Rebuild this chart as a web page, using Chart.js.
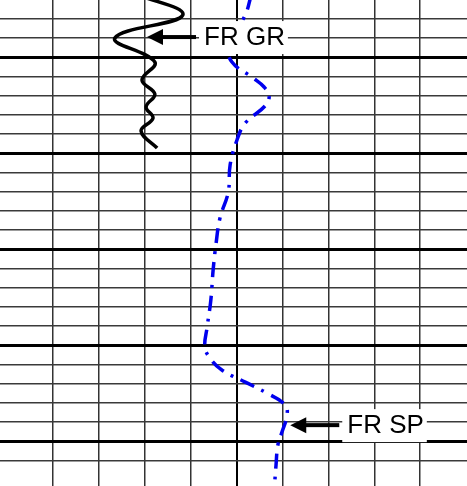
<!DOCTYPE html>
<html>
<head>
<meta charset="utf-8">
<title>FR GR / FR SP</title>
<script src="https://cdn.jsdelivr.net/npm/chart.js@4.4.0/dist/chart.umd.min.js"></script>
<style>
  html, body { margin: 0; padding: 0; background: #fff; }
  #wrap { width: 467px; height: 486px; position: relative; }
</style>
</head>
<body>
<div id="wrap"><canvas id="logChart"></canvas></div>
<script>
// track across (0-100, one column = 10) and depth down (one row = 1)
var trackStep = 10;
var trackCenter = 50;
var depthStep = 1;
var depthMajor = [3, 8, 13, 18, 23];

// gamma ray curve (black wiggle)
var grDepth = [-0.35, 0.79, 1.99, 3.24, 4.18, 4.91, 5.58, 6.16, 6.83, 7.72];
var grValue = [27.5, 38.3, 23.5, 32.2, 29.4, 32.2, 30.3, 31.8, 29.2, 32.7];

// SP curve (blue dash-dot)
var spDepth = [-0.25, 0.79, 2.35, 3.24, 4.07, 4.54, 5.01, 5.53, 6.42, 7.30, 8.60, 10.01, 11.36, 12.77, 14.07, 15.64,
               17.04, 18.08, 18.66, 19.28, 19.91, 20.48, 21.10, 21.63, 22.51, 23.19, 24.23, 25.53];
var spValue = [53.2, 51.9, 48.2, 49.0, 53.6, 56.0, 57.1, 56.2, 51.9, 50.1, 48.6, 48.2, 46.4, 45.5, 44.9, 44.4,
               43.6, 43.1, 44.2, 46.8, 51.9, 56.6, 60.6, 61.0, 59.9, 59.0, 58.6, 58.2];

// arrow labels: text and the point the arrow touches
var labelText = ['FR GR', 'FR SP'];
var labelDepth = [1.94, 22.15];
var labelValue = [30.5, 61.7];

function toPoints(values, depths) {
    var pts = [];
    for (var i = 0; i < values.length; i++) {
        pts.push({ x: values[i], y: depths[i] });
    }
    return pts;
}

function onStep(v, step) {
    return Math.abs(v / step - Math.round(v / step)) < 1e-6;
}

// draws the white label boxes, arrows and text on top of the curves
var arrowLabels = {
    id: 'arrowLabels',
    afterDatasetsDraw: function(chart) {
        var ctx = chart.ctx;
        var xs = chart.scales.x;
        var ys = chart.scales.y;
        ctx.save();
        ctx.font = '26px "Liberation Sans", Arial, sans-serif';
        ctx.textBaseline = 'middle';
        for (var i = 0; i < labelText.length; i++) {
            var tx = xs.getPixelForValue(labelValue[i]);
            var ty = ys.getPixelForValue(labelDepth[i]);
            var textX = tx + 57;
            var w = ctx.measureText(labelText[i]).width;

            ctx.fillStyle = '#fff';
            ctx.fillRect(textX - 5, ty - 16, w + 8, 33);

            ctx.fillStyle = '#000';
            ctx.fillRect(tx + 14, ty - 2, (textX - 8) - (tx + 14), 4);
            ctx.beginPath();
            ctx.moveTo(tx, ty);
            ctx.lineTo(tx + 16, ty - 8);
            ctx.lineTo(tx + 16, ty + 8);
            ctx.closePath();
            ctx.fill();

            ctx.fillText(labelText[i], textX, ty + 1);
        }
        ctx.restore();
    }
};

var chart = new Chart(document.getElementById('logChart').getContext('2d'), {
    type: 'line',
    data: {
        datasets: [
            {
                label: 'SP',
                data: toPoints(spValue, spDepth),
                borderColor: '#0000ee',
                borderWidth: 3.5,
                borderDash: [15, 8, 3, 8],
                tension: 0.4,
                pointRadius: 0,
                fill: false
            },
            {
                label: 'GR',
                data: toPoints(grValue, grDepth),
                borderColor: '#000',
                borderWidth: 3.5,
                tension: 0.4,
                pointRadius: 0,
                fill: false
            }
        ]
    },
    options: {
        responsive: true,
        maintainAspectRatio: false,
        animation: false,
        layout: { padding: 0 },
        plugins: {
            legend: { display: false },
            tooltip: { enabled: false },
            title: { display: false }
        },
        scales: {
            x: {
                type: 'linear',
                position: 'bottom',
                min: -1.525,
                max: 100.2,
                afterFit: function(axis) { axis.height = 0; },
                ticks: { display: false, stepSize: trackStep },
                border: { display: false },
                grid: {
                    drawTicks: false,
                    color: function(c) {
                        var v = c.tick ? c.tick.value : NaN;
                        if (!onStep(v, trackStep)) return 'rgba(0,0,0,0)';
                        return (v === 0 || v === trackCenter) ? '#000' : '#333';
                    },
                    lineWidth: function(c) {
                        var v = c.tick ? c.tick.value : NaN;
                        if (v === 0) return 3.5;
                        if (v === trackCenter) return 2;
                        return 1.5;
                    }
                }
            },
            y: {
                type: 'linear',
                reverse: true,
                min: 0.01,
                max: 25.32,
                afterFit: function(axis) { axis.width = 0; },
                ticks: { display: false, stepSize: depthStep },
                border: { display: false },
                grid: {
                    drawTicks: false,
                    color: function(c) {
                        var v = c.tick ? c.tick.value : NaN;
                        if (!onStep(v, depthStep)) return 'rgba(0,0,0,0)';
                        return depthMajor.indexOf(Math.round(v)) >= 0 ? '#000' : '#3a3a3a';
                    },
                    lineWidth: function(c) {
                        var v = c.tick ? c.tick.value : NaN;
                        return depthMajor.indexOf(Math.round(v)) >= 0 ? 3 : 1.5;
                    }
                }
            }
        }
    },
    plugins: [arrowLabels]
});
</script>
</body>
</html>
